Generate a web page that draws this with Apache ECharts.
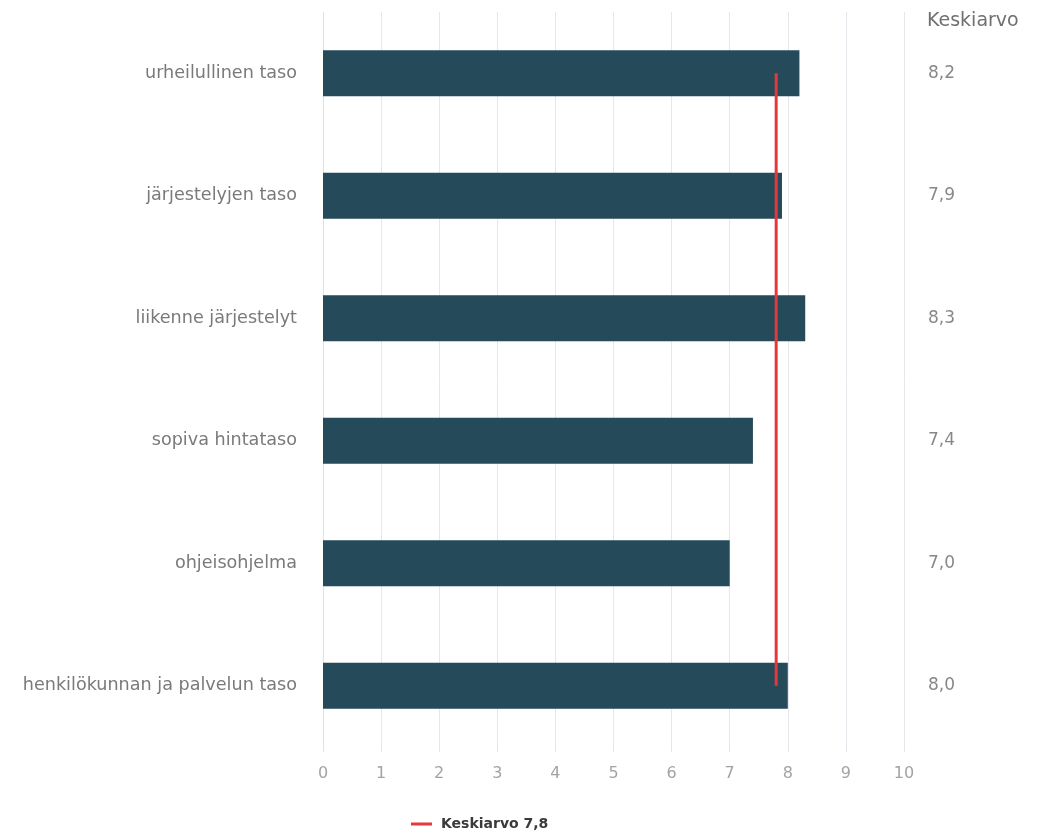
<!DOCTYPE html>
<html>
<head>
<meta charset="utf-8">
<script src="https://cdn.jsdelivr.net/npm/echarts@6/dist/echarts.min.js"></script>
<style>
  html, body { margin: 0; padding: 0; background: #ffffff; }
  #chart { width: 1038px; height: 833px; }
</style>
</head>
<body>
<div id="chart"></div>
<script>
// Arviot osa-alueittain (asteikko 0–10)
const categories = [
  'urheilullinen taso',
  'järjestelyjen taso',
  'liikenne järjestelyt',
  'sopiva hintataso',
  'ohjeisohjelma',
  'henkilökunnan ja palvelun taso'
];
const scores = [8.2, 7.9, 8.3, 7.4, 7.0, 8.0];
const overallMean = 7.8;
const meanLabel = 'Keskiarvo 7,8';
const columnTitle = 'Keskiarvo';

const fmt = v => v.toFixed(1).replace('.', ',');
const FONT = 'DejaVu Sans';

const chart = echarts.init(document.getElementById('chart'), null, { renderer: 'canvas' });

chart.setOption({
  animation: false,
  backgroundColor: '#ffffff',
  textStyle: { fontFamily: FONT },
  title: {
    text: columnTitle,
    left: 922,
    top: 7,
    textStyle: { fontFamily: FONT, fontSize: 19, fontWeight: 'normal', color: '#707070' }
  },
  legend: {
    data: [meanLabel],
    left: 406,
    top: 812,
    icon: 'rect',
    itemWidth: 21,
    itemHeight: 3,
    textStyle: { fontFamily: FONT, fontSize: 14, fontWeight: 'bold', color: '#3a3a3a', padding: [0, 0, 0, 4] }
  },
  grid: { left: 323, right: 134, top: 12, bottom: 86, containLabel: false },
  xAxis: {
    type: 'value',
    min: 0,
    max: 10,
    interval: 1,
    axisLine: { show: false },
    axisTick: { show: true, length: 5, lineStyle: { color: '#e4e4ea' } },
    axisLabel: { margin: 19, fontSize: 16, color: '#a3a3a3', fontFamily: FONT },
    splitLine: { show: true, lineStyle: { color: '#e6e6ec', width: 1 } }
  },
  yAxis: [
    {
      type: 'category',
      data: categories,
      inverse: true,
      axisLine: { show: true, lineStyle: { color: '#dfe2ec' } },
      axisTick: { show: false },
      axisLabel: { margin: 26, fontSize: 17.6, color: '#7a7a7a', fontFamily: FONT }
    },
    {
      type: 'category',
      data: categories,
      inverse: true,
      position: 'right',
      axisLine: { show: false },
      axisTick: { show: false },
      axisLabel: {
        margin: 24,
        fontSize: 17,
        color: '#888888',
        fontFamily: FONT,
        formatter: (val, idx) => fmt(scores[idx])
      }
    }
  ],
  series: [
    {
      name: 'Arvio',
      type: 'bar',
      data: scores,
      barWidth: '37.5%',
      itemStyle: { color: '#254a5a' },
      silent: true
    },
    {
      name: meanLabel,
      type: 'line',
      data: [[overallMean, categories[0]], [overallMean, categories[categories.length - 1]]],
      symbol: 'none',
      lineStyle: { color: '#e5383d', width: 3 },
      itemStyle: { color: '#e5383d' },
      z: 5
    }
  ]
});
</script>
</body>
</html>
